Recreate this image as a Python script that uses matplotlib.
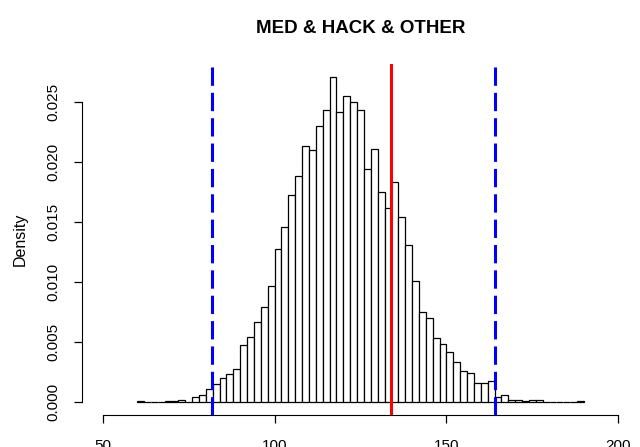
import numpy as np
import matplotlib

matplotlib.use('Agg')
import matplotlib.pyplot as plt

plt.rcParams['font.family'] = ['Liberation Sans', 'DejaVu Sans']

# histogram bins (width 2) and counts
bin_edges = np.arange(60, 192, 2)
counts = [1, 0, 0, 0, 1, 2, 4, 0, 9, 12,
          22, 30, 39, 47, 55, 95, 107, 133, 158, 192,
          254, 291, 344, 374, 424, 418, 457, 484, 539, 481,
          507, 498, 485, 387, 419, 349, 321, 365, 307, 261,
          200, 149, 139, 106, 97, 83, 66, 51, 48, 31,
          31, 34, 9, 11, 3, 4, 1, 3, 3, 0,
          0, 0, 0, 0, 1]

# reference lines
red_line = 134.0
blue_lines = [81.8, 164.0]

x_ticks = [50, 100, 150, 200]
y_ticks = [0.0, 0.005, 0.010, 0.015, 0.020, 0.025]

fig = plt.figure(figsize=(6.4, 4.47), dpi=100)
ax = fig.add_axes([82 / 640, 32 / 447, (639 - 82) / 640, (415 - 64) / 447])

ax.hist(bin_edges[:-1], bins=bin_edges, weights=counts, density=True,
        facecolor='white', edgecolor='black', linewidth=0.9)

ax.axvline(red_line, color='red', linewidth=2.2)
for b in blue_lines:
    ax.axvline(b, color='blue', linewidth=2.2, dashes=(6, 2.3))

ax.set_xlim(44, 206)
dmax = max(counts) / (sum(counts) * 2)
ax.set_ylim(-0.04 * dmax, 1.04 * dmax)

for s in ['top', 'right']:
    ax.spines[s].set_visible(False)
ax.spines['bottom'].set_bounds(50, 200)
ax.spines['left'].set_bounds(0, 0.025)

ax.set_xticks(x_ticks)
ax.set_xticklabels([str(t) for t in x_ticks])
ax.set_yticks(y_ticks)
ax.set_yticklabels(['%.3f' % t for t in y_ticks], rotation=90, va='center')
ax.tick_params(direction='out', length=6, width=0.9, labelsize=11, colors='black')
ax.tick_params(axis='x', pad=11.5)
ax.tick_params(axis='y', pad=9.5)

ax.set_ylabel('Density', fontsize=11.5, labelpad=13.5)
ax.set_title('MED & HACK & OTHER', fontsize=13.5, fontweight='bold', pad=22.5)

fig.savefig('out.png', dpi=100)
